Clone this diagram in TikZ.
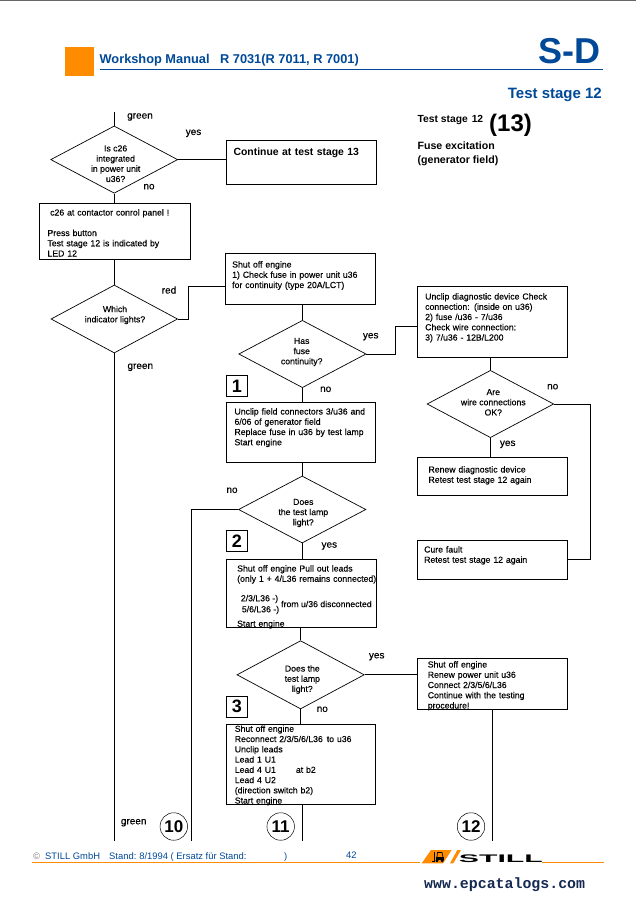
\documentclass[tikz,border=0pt]{standalone}
\usepackage{fontspec}
\setmainfont{Liberation Sans}
\newfontfamily\webfont{Liberation Mono}
\newfontfamily\bodyfont[FakeBold=0.2]{Liberation Sans}
\usetikzlibrary{shapes.geometric, arrows.meta, positioning, calc}
\definecolor{stillblue}{RGB}{0,72,152}
\definecolor{stillorange}{RGB}{255,140,0}
\definecolor{webnavy}{RGB}{20,40,80}

\tikzset{
    % box: width, height, left inset, top inset
    flowbox/.style n args={4}{draw, line width=1pt, anchor=north west, align=left, font=\bodyfont\fontsize{8.7}{10.25}\selectfont,
        inner xsep=#3, inner ysep=#4, text width=#1-2*#3, text height=7pt, text depth=#2-7pt-2*#4},
    decision/.style={draw, diamond, inner sep=0pt, line width=0.7pt},
    dtext/.style={align=center, inner sep=0pt, font=\bodyfont\fontsize{8.7}{10.2}\selectfont},
    pathlabel/.style={inner sep=0pt, font=\bodyfont\fontsize{10}{12}\selectfont},
    numbox/.style={draw, line width=1pt, minimum width=21.4pt, minimum height=20.6pt, inner sep=0pt, font=\bfseries\fontsize{18}{18}\selectfont},
    numcircle/.style={draw, circle, line width=0.5pt, minimum size=27.5pt, inner sep=0pt, font=\bfseries\fontsize{17}{17}\selectfont},
    link/.style={line width=1pt},
    headblue/.style={text=stillblue, inner sep=0pt},
    foot/.style={text=stillblue, inner sep=0pt, anchor=base west, font=\fontsize{9.4}{11}\selectfont}
}

\begin{document}
\begin{tikzpicture}[x=1pt, y=-1pt]
        \useasboundingbox (0,0) rectangle (636,900);
        \draw[gray!80!black, line width=1pt] (0,0.5) -- (636,0.5);

        % Header
        \fill[stillorange] (65,47) rectangle (94,76);
        \draw[stillblue, line width=0.8pt] (100,69.4) -- (603,69.4);
        \node[headblue, anchor=base west, font=\bfseries\fontsize{12.8}{14}\selectfont] (title) at (99.4,63) {Workshop Manual\hspace{10.5pt}R 7031(R 7011, R 7001)};
        \node[headblue, anchor=base east, font=\bfseries\fontsize{36}{36}\selectfont] (sd) at (600.6,63) {S-D};
        \node[headblue, anchor=base east, font=\bfseries\fontsize{15}{15}\selectfont] (stage) at (602,98) {Test stage 12};
        \node[inner sep=0pt, anchor=base west, font=\bfseries\fontsize{10.3}{12}\selectfont] (stageb) at (417.4,122) {Test stage\hspace{4pt}12};
        \node[inner sep=0pt, font=\bfseries\fontsize{24}{24}\selectfont] (stagec) at (510.5,125) {(13)};
        \node[inner sep=0pt, anchor=north west, align=left, font=\bfseries\fontsize{10.6}{13.2}\selectfont] (fuse) at (417.4,142) {Fuse excitation\\(generator field)};

        % Left column
        \node[decision, minimum width=127pt, minimum height=67.3pt] (isc) at (114.2,159.6) {};
        \node[dtext] (isctext) at (115.6,163.7) {Is c26\\integrated\\in power unit\\u36?};
        \node[flowbox={150}{44}{6.7}{7.5}, font=\bfseries\fontsize{10.4}{12}\selectfont] (cont) at (226.4,140) {Continue at test stage 13};
        \node[flowbox={150.4}{56}{7.7}{4.7}] (panel) at (39.3,203.3) {\hspace*{2.7pt}c26 at contactor conrol panel !\\[10.25pt]Press button\\Test stage 12 is indicated by\\LED 12};
        \node[decision, minimum width=126.6pt, minimum height=68pt] (which) at (114.3,319) {};
        \node[dtext] (whichtext) at (115,315) {Which\\indicator lights?};

        % Middle column
        \node[flowbox={150}{51}{6.4}{6.7}] (shut) at (225.3,253.3) {Shut off engine\\1) Check fuse in power unit u36\\for continuity (type 20A/LCT)};
        \node[decision, minimum width=127.3pt, minimum height=67.3pt] (hasfuse) at (302.4,354) {};
        \node[dtext] (hasfusetext) at (301.7,352) {Has\\fuse\\continuity?};
        \node[numbox] (one) at (237,386) {1};
        \node[flowbox={149}{60.6}{7.7}{5.3}] (field) at (226.3,401.7) {Unclip field connectors 3/u36 and\\6/06 of generator field\\Replace fuse in u36 by test lamp\\Start engine};
        \node[decision, minimum width=127.4pt, minimum height=67pt] (lampa) at (302.2,509.5) {};
        \node[dtext] (lampatext) at (303.3,513) {Does\\the test lamp\\light?};
        \node[numbox] (two) at (237,540.8) {2};
        \node[flowbox={150}{68}{10.4}{4.7}] (pull) at (226.3,559.3) {Shut off engine Pull out leads\\\mbox{(only 1 + 4/L36 remains connected)}\\[34.7pt]Start engine};
        \node[dtext, anchor=west] (leadsa) at (240.7,599) {2/3/L36 -)};
        \node[dtext, anchor=west] (leadsb) at (241.7,610) {5/6/L36 -)};
        \node[dtext, anchor=west] (leadsc) at (281,604) {from u/36 disconnected};
        \node[decision, minimum width=127.3pt, minimum height=68.3pt] (lampb) at (300.6,674.8) {};
        \node[dtext] (lampbtext) at (302.3,679.5) {Does the\\test lamp\\light?};
        \node[numbox] (three) at (237,706.8) {3};
        \node[flowbox={149}{80}{8}{0}] (recon) at (226.3,724.3) {Shut off engine\\Reconnect 2/3/5/6/L36\hspace{4pt}to u36\\Unclip leads\\Lead 1 U1\\Lead 4 U1\hspace{20pt}at b2\\Lead 4 U2\\(direction switch b2)\\Start engine};

        % Right column
        \node[flowbox={150}{71}{7.4}{5.7}] (diag) at (417.3,286.3) {Unclip diagnostic device Check\\connection: (inside on u36)\\2) fuse /u36 - 7/u36\\Check wire connection:\\3) 7/u36 - 12B/L200};
        \node[decision, minimum width=126.6pt, minimum height=67.3pt] (wires) at (490.4,404) {};
        \node[dtext] (wirestext) at (493.3,402.3) {Are\\wire connections\\OK?};
        \node[flowbox={150}{38}{10.7}{7.7}] (renew) at (417.3,457.3) {Renew diagnostic device\\Retest test stage 12 again};
        \node[flowbox={150}{39}{6.4}{4.7}] (cure) at (417.3,540.3) {Cure fault\\Retest test stage 12 again};
        \node[flowbox={149.4}{51}{10}{1.7}] (power) at (417.3,658.3) {Shut off engine\\Renew power unit u36\\Connect 2/3/5/6/L36\\Continue with the testing\\procedure!};

        % Free ends
        \coordinate (topin) at (114.2,112);
        \coordinate (redup) at (188.7,286.3);
        \coordinate (yesup) at (395.7,326.7);
        \coordinate (noend) at (191,840.7);
        \coordinate (greenend) at (114.3,840.7);
        \coordinate (reconend) at (302.3,840.7);
        \coordinate (powerend) at (492.3,840.7);
        \coordinate (wirelow) at (590,559.3);

        % Connectors
        \draw[link] (topin) -- (isc.north);
        \draw[link] (isc.east) -- (cont.west |- isc.east);
        \draw[link] (isc.south) -- (panel.north -| isc.south);
        \draw[link] (panel.south -| which.north) -- (which.north);
        \draw[link] (which.east) -- (which.east -| redup) -- (redup) -- (shut.west |- redup);
        \draw[link] (which.south) -- (greenend);
        \draw[link] (shut.south -| hasfuse.north) -- (hasfuse.north);
        \draw[link] (hasfuse.east) -- (hasfuse.east -| yesup) -- (yesup) -- (diag.west |- yesup);
        \draw[link] (hasfuse.south) -- (field.north -| hasfuse.south);
        \draw[link] (field.south -| lampa.north) -- (lampa.north);
        \draw[link] (lampa.west) -- (lampa.west -| noend) -- (noend);
        \draw[link] (lampa.south) -- (pull.north -| lampa.south);
        \draw[link] (pull.south -| lampb.north) -- (lampb.north);
        \draw[link] (lampb.east) -- (power.west |- lampb.east);
        \draw[link] (lampb.south) -- (recon.north -| lampb.south);
        \draw[link] (recon.south -| reconend) -- (reconend);
        \draw[link] (diag.south -| wires.north) -- (wires.north);
        \draw[link] (wires.south) -- (renew.north -| wires.south);
        \draw[link] (wires.east) -- (wires.east -| wirelow) -- (wirelow) -- (cure.east |- wirelow);
        \draw[link] (power.south -| powerend) -- (powerend);

        % Path labels
        \node[pathlabel] (lgreena) at (140,117) {green};
        \node[pathlabel] (lyesa) at (193.5,133.3) {yes};
        \node[pathlabel] (lnoa) at (149,186.7) {no};
        \node[pathlabel] (lred) at (169,290) {red};
        \node[pathlabel] (lgreenb) at (140.3,367.3) {green};
        \node[pathlabel] (lyesb) at (370.7,336.7) {yes};
        \node[pathlabel] (lnob) at (325.7,389.3) {no};
        \node[pathlabel] (lnoc) at (552.7,386.7) {no};
        \node[pathlabel] (lyesc) at (507.7,444.3) {yes};
        \node[pathlabel] (lnod) at (232,490.3) {no};
        \node[pathlabel] (lyesd) at (329.3,546) {yes};
        \node[pathlabel] (lyese) at (376.7,656.7) {yes};
        \node[pathlabel] (lnoe) at (322.3,709.3) {no};
        \node[pathlabel] (lgreenc) at (133.7,822.7) {green};

        % Exit numbers
        \node[numcircle] (ten) at (173.8,826.5) {10};
        \node[numcircle] (eleven) at (280.7,826.5) {11};
        \node[numcircle] (twelve) at (471,826.5) {12};

        % Footer
        \draw[stillorange, line width=1pt] (31.5,862.5) -- (420,862.5);
        \draw[stillorange, line width=1pt] (542,862.5) -- (604,862.5);
        \node[foot, text=gray] (copyr) at (33,859) {\textcopyright};
        \node[foot] (firm) at (45,859) {STILL GmbH};
        \node[foot] (standa) at (109,859) {Stand:\hspace{3pt}8/1994 ( Ersatz für Stand:};
        \node[foot] (standb) at (284,859) {)};
        \node[foot] (pagenr) at (346,858) {42};
        \node[inner sep=0pt, anchor=base west, font=\webfont\bfseries\fontsize{14.9}{15}\selectfont, text=webnavy] (web) at (424,888) {www.epcatalogs.com};

        % Logo
        \fill[stillorange] (421.7,863.3) -- (431,850) -- (451.7,850) -- (443,863.3) -- cycle;
        \fill[stillorange] (450,863.3) -- (457.3,850) -- (461,850) -- (453.3,863.3) -- cycle;
        \fill (436,856.5) rectangle (443.5,860);
        \draw[line width=0.7pt] (437,857) -- (437.5,852.5) -- (442,852.5) -- (443,857);
        \draw[line width=1pt] (434.5,852) -- (434.5,861.5) -- (431.5,861.5);
        \fill (437,860.7) circle (1.6);
        \fill (442.3,860.7) circle (1.6);
        \node[inner sep=0pt, anchor=base west, xscale=2.75, transform shape, font=\bfseries\fontsize{11}{11}\selectfont] (logo) at (458.3,862.7) {STILL};
    \end{tikzpicture}
\end{document}
